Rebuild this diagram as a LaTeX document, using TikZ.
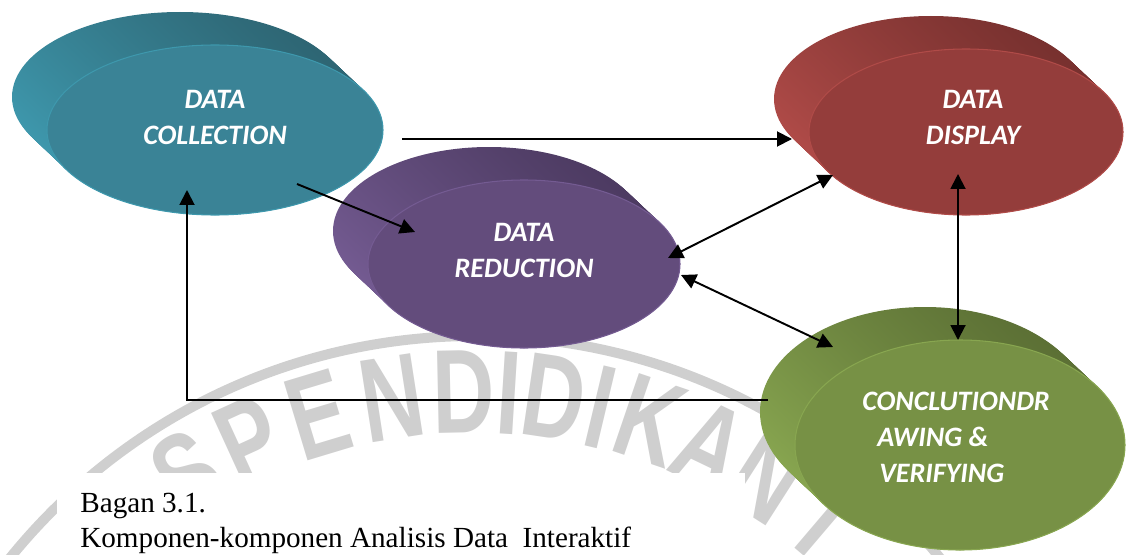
\documentclass[tikz,border=0pt]{standalone}
\usepackage{fontspec}
\usetikzlibrary{shapes.geometric,arrows.meta,calc}
\newfontfamily\calib{Carlito}
\newfontfamily\tnr{Liberation Serif}
\newfontfamily\wmfont[FakeStretch=0.72,BoldFeatures={FakeStretch=0.72}]{Liberation Sans}

\definecolor{tealF}{HTML}{3A8396}\definecolor{tealL}{HTML}{3E98AD}\definecolor{tealD}{HTML}{2E6674}
\definecolor{purF}{HTML}{634C7C}\definecolor{purL}{HTML}{745B92}\definecolor{purD}{HTML}{4D3B62}
\definecolor{redF}{HTML}{943D3B}\definecolor{redL}{HTML}{B04B48}\definecolor{redD}{HTML}{78312F}
\definecolor{grnF}{HTML}{779145}\definecolor{grnL}{HTML}{88A650}\definecolor{grnD}{HTML}{5C7035}

\begin{document}
\begin{tikzpicture}[x=0.02cm,y=-0.02cm,
  slab/.style={ellipse,inner sep=0pt,outer sep=0pt,line width=.6pt},
  lbl/.style={text=white,font=\calib\bfseries\itshape\fontsize{16}{20.5}\selectfont,align=center,inner sep=0pt},
  arr/.style={line width=1.1pt,-{Triangle[length=.3cm,width=.3cm]}},
  arrs/.style={line width=1.1pt,{Triangle[length=.3cm,width=.3cm]}-{Triangle[length=.3cm,width=.3cm]}},
  wm/.style={draw=black!19,line width=.2cm},
  wmletter/.style={text=black!19,font=\wmfont\bfseries\fontsize{68}{68}\selectfont,inner sep=0pt},
  captext/.style={font=\tnr\fontsize{16.6}{20}\selectfont,inner sep=0pt,anchor=base west}]
\useasboundingbox (0,0) rectangle (1128,554);

% seal in the background
\coordinate (seal) at (475,934);
\draw[wm] (seal) circle [radius=598];
\foreach \ch/\a [count=\i] in {S/122,P/114.6,E/106.8,N/98.8,D/91.2,I/86.4,D/81.6,I/76.6,K/71.2,A/64.3,N/57.4,I/49.6}
  \node[wmletter,rotate=\a-90] (seal-\i) at ($(seal)+(-\a:542)$) {\ch};

% caption
\fill[white] (57,473) rectangle (745,560);
\node[captext] (bagan) at (80,512) {Bagan 3.1.};
\node[captext] (judul) at (80,547) {Komponen-komponen Analisis Data~ Interaktif};

% extruded ellipses, back layers first
\foreach \nm/\cx/\cy/\rx/\ry/\hue in {reduce/524/264/156/84/pur,collect/215/130/168/85/teal,display/966/132/157/83/red,verify/960/445/165/105/grn}{
  \foreach \k in {0,...,24}
    \shade[top color=\hue D,bottom color=\hue L,shading angle=-35] (\cx-35+35*\k/24,\cy-33+33*\k/24) ellipse [x radius=\rx,y radius=\ry];
  \node[slab,fill=\hue F,draw=\hue L,minimum width=2*\rx*0.02cm,minimum height=2*\ry*0.02cm] (\nm) at (\cx,\cy) {};
}

\node[lbl] (collect-t) at ($(collect)+(0,-13)$) {DATA\\COLLECTION};
\node[lbl] (reduce-t) at ($(reduce)+(0,-14)$) {DATA\\REDUCTION};
\node[lbl] (display-t) at ($(display)+(7,-15)$) {DATA\\DISPLAY};
\node[lbl,align=left] (verify-t) at ($(verify)+(-4,-8)$) {CONCLUTIONDR\\\hspace*{.3cm}AWING \&\\\hspace*{.34cm}VERIFYING};

\draw[arr] ($(collect)+(187,9)$) -- ($(display)+(-174,7)$);
\draw[arr] ($(collect)+(82,54)$) -- ($(reduce)+(-109,-32)$);
\draw[arrs] ($(reduce)+(144,-6)$) -- ($(display)+(-133,43)$);
\draw[arrs] ($(reduce)+(157,11)$) -- ($(verify)+(-127,-98)$);
\draw[arrs] ($(display)+(-8,42)$) -- ($(verify)+(-2,-105)$);
\draw[arr] ($(verify)+(-192,-45)$) -| ($(collect)+(-28,60)$);
\end{tikzpicture}
\end{document}
